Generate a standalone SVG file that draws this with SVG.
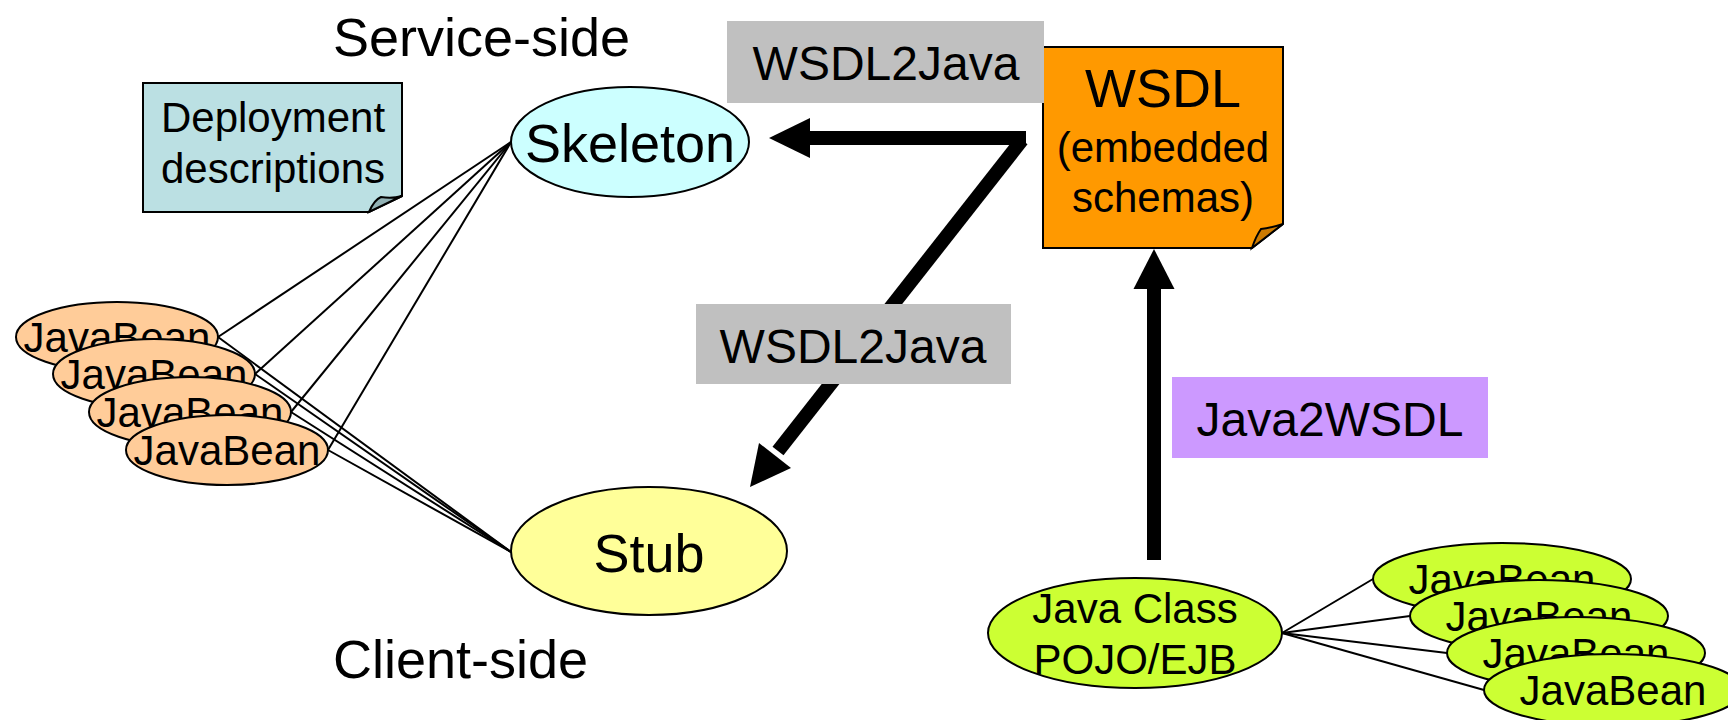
<svg xmlns="http://www.w3.org/2000/svg" width="1728" height="720" viewBox="0 0 1728 720">
  <style>
    text { font-family: "Liberation Sans", Arial, sans-serif; fill: #000; }
    .big { font-size: 54px; }
    .mid { font-size: 48px; }
    .sm { font-size: 42px; }
    .c { text-anchor: middle; }
    .node { stroke: #000; stroke-width: 2; }
    .link { stroke: #000; stroke-width: 2; fill: none; }
    .flow { stroke: #000; stroke-width: 14; fill: none; stroke-linecap: butt; }
    .head { fill: #000; stroke: none; }
  </style>

  <rect width="1728" height="720" fill="#fff"/>

  <!-- side captions -->
  <text id="service-side" class="big" x="333" y="56">Service-side</text>
  <text id="client-side" class="big" x="333" y="678">Client-side</text>

  <!-- deployment note -->
  <g id="deployment">
    <path class="node" d="M143,83 H402 V196 L369,212 H143 Z" fill="#BBE0E3"/>
    <path class="node" stroke-width="1.5" d="M369,212 Q374,200 381,197 Q392,199 402,196 Z" fill="#92B2B5"/>
    <text class="sm c" x="273" y="132">Deployment</text>
    <text class="sm c" x="273" y="183">descriptions</text>
  </g>

  <!-- WSDL note -->
  <g id="wsdl">
    <path class="node" d="M1043,47 H1283 V224 L1252,248 H1043 Z" fill="#FF9900"/>
    <path class="node" stroke-width="1.5" d="M1252,248 Q1256,236 1261,229 Q1270,228 1283,224 Z" fill="#CC7A00"/>
    <text class="big c" x="1163" y="107">WSDL</text>
    <text class="sm c" x="1163" y="162">(embedded</text>
    <text class="sm c" x="1163" y="212">schemas)</text>
  </g>

  <!-- service and client nodes -->
  <g id="skeleton">
    <ellipse class="node" cx="630" cy="142" rx="119" ry="55" fill="#CCFFFF"/>
    <text class="big c" x="630" y="162">Skeleton</text>
  </g>
  <g id="stub">
    <ellipse class="node" cx="649" cy="551" rx="138" ry="64" fill="#FFFF99"/>
    <text class="big c" x="649" y="572">Stub</text>
  </g>

  <!-- left JavaBeans -->
  <g id="bean-l1">
    <ellipse class="node" cx="117" cy="337" rx="101" ry="35" fill="#FFCC99"/>
    <text class="sm c" x="117" y="352">JavaBean</text>
  </g>
  <g id="bean-l2">
    <ellipse class="node" cx="154" cy="374" rx="101" ry="35" fill="#FFCC99"/>
    <text class="sm c" x="154" y="389">JavaBean</text>
  </g>
  <g id="bean-l3">
    <ellipse class="node" cx="190" cy="412" rx="101" ry="35" fill="#FFCC99"/>
    <text class="sm c" x="190" y="427">JavaBean</text>
  </g>
  <g id="bean-l4">
    <ellipse class="node" cx="227" cy="450" rx="101" ry="35" fill="#FFCC99"/>
    <text class="sm c" x="227" y="465">JavaBean</text>
  </g>

  <!-- Java class and its beans -->
  <g id="java-class">
    <ellipse class="node" cx="1135" cy="633" rx="147" ry="55" fill="#CCFF33"/>
    <text class="sm c" x="1135" y="623">Java Class</text>
    <text class="sm c" x="1135" y="674">POJO/EJB</text>
  </g>
  <g id="bean-r1">
    <ellipse class="node" cx="1502" cy="579" rx="129" ry="36" fill="#CCFF33"/>
    <text class="sm c" x="1502" y="594">JavaBean</text>
  </g>
  <g id="bean-r2">
    <ellipse class="node" cx="1539" cy="616" rx="129" ry="36" fill="#CCFF33"/>
    <text class="sm c" x="1539" y="631">JavaBean</text>
  </g>
  <g id="bean-r3">
    <ellipse class="node" cx="1576" cy="653" rx="129" ry="36" fill="#CCFF33"/>
    <text class="sm c" x="1576" y="668">JavaBean</text>
  </g>
  <g id="bean-r4">
    <ellipse class="node" cx="1613" cy="690" rx="129" ry="36" fill="#CCFF33"/>
    <text class="sm c" x="1613" y="705">JavaBean</text>
  </g>

  <!-- connectors -->
  <g id="connectors">
    <!-- beans to skeleton -->
    <line class="link" x1="218" y1="337" x2="511" y2="142"/>
    <line class="link" x1="255" y1="374" x2="511" y2="142"/>
    <line class="link" x1="291" y1="412" x2="511" y2="142"/>
    <line class="link" x1="328" y1="450" x2="511" y2="142"/>
    <!-- beans to stub -->
    <line class="link" x1="218" y1="337" x2="511" y2="552"/>
    <line class="link" x1="255" y1="374" x2="511" y2="552"/>
    <line class="link" x1="291" y1="412" x2="511" y2="552"/>
    <line class="link" x1="328" y1="450" x2="511" y2="552"/>
    <!-- java class to beans -->
    <line class="link" x1="1282" y1="633" x2="1373" y2="579"/>
    <line class="link" x1="1282" y1="633" x2="1410" y2="616"/>
    <line class="link" x1="1282" y1="633" x2="1447" y2="653"/>
    <line class="link" x1="1282" y1="633" x2="1484" y2="690"/>

    <!-- WSDL2Java to skeleton -->
    <line class="flow" x1="1026" y1="138" x2="806" y2="138"/>
    <polygon class="head" points="769,138 810,118 810,158"/>
    <!-- WSDL2Java to stub -->
    <line class="flow" x1="1022" y1="140" x2="778" y2="451"/>
    <polygon class="head" points="750,487 759,443 791,468"/>
    <!-- Java2WSDL up to WSDL -->
    <line class="flow" x1="1154" y1="560" x2="1154" y2="285"/>
    <polygon class="head" points="1154,249 1133.5,289 1174.5,289"/>
  </g>

  <!-- tool labels, laid over the arrows -->
  <g id="label-wsdl2java-top">
    <rect x="727" y="21" width="317" height="82" fill="#C0C0C0"/>
    <text class="mid c" x="886" y="80">WSDL2Java</text>
  </g>
  <g id="label-wsdl2java-bottom">
    <rect x="696" y="304" width="315" height="80" fill="#C0C0C0"/>
    <text class="mid c" x="853" y="363">WSDL2Java</text>
  </g>
  <g id="label-java2wsdl">
    <rect x="1172" y="377" width="316" height="81" fill="#CC99FF"/>
    <text class="mid c" x="1330" y="436">Java2WSDL</text>
  </g>
</svg>
